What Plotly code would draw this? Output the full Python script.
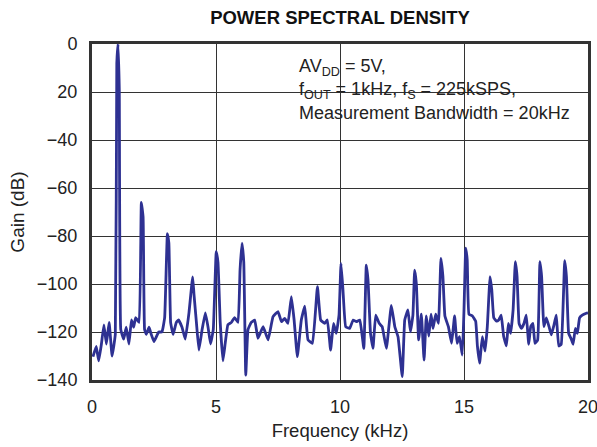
import plotly.graph_objects as go

freq_khz = [0.04, 0.17, 0.27, 0.38, 0.48, 0.58, 0.69, 0.81, 0.94, 1.0, 1.05, 1.1, 1.16, 1.28, 1.38, 1.49, 1.59, 1.68, 1.76, 1.9,
            1.99, 2.06, 2.12, 2.19, 2.3, 2.39, 2.5, 2.69, 2.82, 2.93, 3.04, 3.1, 3.17, 3.27, 3.4, 3.49, 3.63, 3.76, 3.91, 4.06,
            4.11, 4.21, 4.31, 4.44, 4.57, 4.68, 4.78, 4.89, 5.01, 5.08, 5.17, 5.28, 5.38, 5.48, 5.62, 5.75, 5.89, 5.97, 6.05, 6.12,
            6.2, 6.29, 6.42, 6.56, 6.69, 6.9, 7.1, 7.3, 7.5, 7.64, 7.77, 7.9, 8.04, 8.15, 8.28, 8.44, 8.58, 8.71, 8.89, 9.09,
            9.22, 9.38, 9.49, 9.62, 9.74, 9.85, 9.96, 10.04, 10.12, 10.23, 10.39, 10.53, 10.66, 10.8, 10.96, 11.06, 11.13, 11.23, 11.33, 11.44,
            11.58, 11.7, 11.87, 12.07, 12.21, 12.34, 12.51, 12.61, 12.74, 12.84, 12.94, 13.01, 13.08, 13.17, 13.28, 13.39, 13.48, 13.58, 13.67, 13.75,
            13.86, 13.97, 14.07, 14.15, 14.23, 14.37, 14.5, 14.62, 14.72, 14.82, 14.93, 15.0, 15.07, 15.13, 15.2, 15.34, 15.47, 15.54, 15.63, 15.74,
            15.85, 15.94, 16.05, 16.12, 16.2, 16.31, 16.4, 16.5, 16.6, 16.71, 16.79, 16.88, 16.98, 17.07, 17.14, 17.22, 17.31, 17.42, 17.51, 17.61,
            17.69, 17.78, 17.86, 17.97, 18.06, 18.13, 18.22, 18.32, 18.43, 18.52, 18.63, 18.72, 18.82, 18.92, 19.06, 19.13, 19.22, 19.32, 19.4, 19.49,
            19.57, 19.66, 19.77, 19.93, 20.0]
gain_db = [-130.3, -126, -132, -125, -117, -125, -116, -130, -121, -8, 0, -19, -119, -123, -118, -125, -115, -118, -114, -116,
           -66, -72, -119, -121, -118, -121, -124, -120, -120, -114, -79, -83, -116, -121, -116, -115, -118, -123, -112, -97,
           -104, -116, -127.5, -119, -112, -118, -125, -119, -86.5, -91, -116, -132, -124, -117, -116, -114, -116, -94, -83, -91,
           -138, -119, -116, -115, -122.6, -117.8, -123.3, -113.6, -111.5, -115.7, -114.3, -116.4, -105.3, -115, -130.3, -115, -109.2, -123.3, -124.7, -101.1,
           -115, -116.4, -115, -127.5, -116.4, -120.6, -113, -91.4, -102.5, -117.8, -118.5, -115, -115.7, -115, -126.8, -92.1, -98.3, -120.6, -126.8, -113,
           -116.4, -117.8, -126.8, -108.9, -117.8, -122, -138.6, -115, -110.8, -119.9, -113, -94.2, -100, -123.3, -112.6, -131.7, -113.3, -121.7, -112.6, -118.5,
           -112.6, -116.4, -89.3, -96.9, -113.3, -117.8, -124.7, -113.3, -124.7, -121.9, -129.6, -110.8, -85.1, -90, -112.6, -113.3, -115.5, -125.8, -133, -121.9,
           -128, -117.8, -96.9, -102.5, -114.1, -115.5, -115, -113, -121.9, -125.8, -116.4, -120.6, -110.8, -90.7, -96.9, -116.4, -118.5, -116.4, -113, -125.1,
           -117.8, -116.4, -124.7, -123.3, -90.7, -96.9, -117.8, -114.1, -117.8, -121.2, -117, -113, -125.8, -125.1, -90.3, -96.9, -120.6, -122.8, -125.1, -118.5,
           -120.6, -114.1, -113, -112.2, -112]

x_ticks = [0, 5, 10, 15, 20]
y_ticks = [0, -20, -40, -60, -80, -100, -120, -140]
y_tick_labels = ["0", "20", "\u221240", "\u221260", "\u221280", "\u2212100", "\u2212120", "\u2212140"]

fig = go.Figure()
fig.add_trace(go.Scatter(x=freq_khz, y=gain_db, mode="lines",
                         line=dict(color="#2E3192", width=2.8, shape="spline", smoothing=0.3),
                         showlegend=False))

font = "Liberation Sans, Arial, sans-serif"
L, R, T, B = 92, 588, 44, 380
fig.update_layout(
    width=597, height=447,
    margin=dict(l=L, r=597 - R, t=T, b=447 - B, autoexpand=False),
    paper_bgcolor="white", plot_bgcolor="white",
    font=dict(family=font, size=18, color="#222"),
    title=dict(text="<b>POWER SPECTRAL DENSITY</b>", x=(L + R) / 2 / 597, xanchor="center",
               y=1 - 18 / 447, yanchor="middle", font=dict(size=18.5, color="#111")),
    xaxis=dict(range=[0, 20], tickvals=x_ticks, ticktext=[str(v) for v in x_ticks],
               showgrid=True, gridcolor="#333", gridwidth=1.3, zeroline=False,
               showline=True, linecolor="#333", linewidth=3, mirror=True, ticks="",
               ticklabelstandoff=8, ticklabeloverflow="allow",
               title=dict(text="Frequency (kHz)", standoff=9, font=dict(size=18.5)), tickfont=dict(size=18)),
    yaxis=dict(range=[-140, 0], tickvals=y_ticks, ticktext=y_tick_labels,
               showgrid=True, gridcolor="#333", gridwidth=1.3, zeroline=False,
               showline=True, linecolor="#333", linewidth=3, mirror=True, ticks="",
               ticklabelstandoff=8, ticklabeloverflow="allow",
               title=dict(text="Gain (dB)", standoff=8, font=dict(size=19)), tickfont=dict(size=18)),
)

fig.add_shape(type="rect", xref="paper", yref="paper", x0=(290 - L) / (R - L), x1=1,
              y0=(B - 125) / (B - T), y1=(B - 50) / (B - T),
              fillcolor="white", line=dict(width=0), layer="between")
fig.add_annotation(xref="paper", yref="paper", x=(297 - L) / (R - L), y=(B - 54) / (B - T),
                   xanchor="left", yanchor="top",
                   align="left", showarrow=False, font=dict(size=18, color="#222"),
                   text="AV<sub>DD</sub> = 5V,<br>f<sub>OUT</sub> = 1kHz, f<sub>S</sub> = 225kSPS,<br>Measurement Bandwidth = 20kHz")

fig.write_html("out.html", config={"displayModeBar": False},
               post_script="document.body.style.margin='0';")
